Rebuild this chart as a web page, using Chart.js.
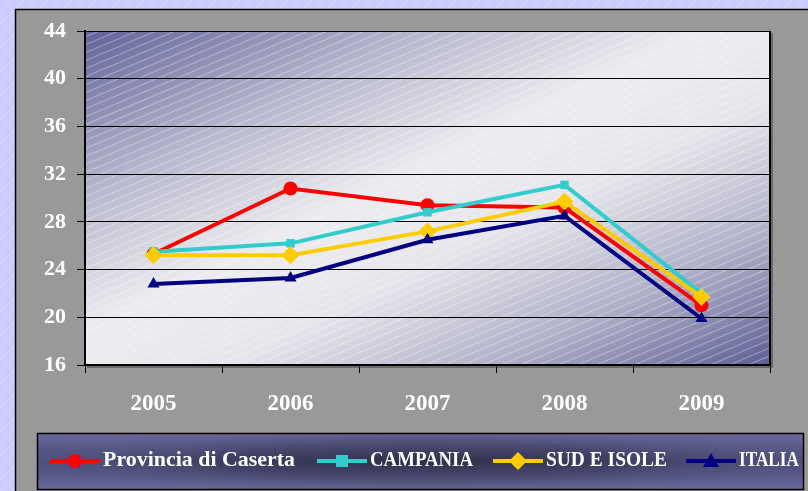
<!DOCTYPE html>
<html>
<head>
<meta charset="utf-8">
<script src="https://cdn.jsdelivr.net/npm/chart.js@4.4.1/dist/chart.umd.min.js"></script>
<style>
  html, body { margin: 0; padding: 0; background: #ccccff; }
  canvas { display: block; }
</style>
</head>
<body>
<canvas id="c" width="808" height="491"></canvas>
<script>
const years = ['2005', '2006', '2007', '2008', '2009'];
const seriesNames = ['Provincia di Caserta', 'CAMPANIA', 'SUD E ISOLE', 'ITALIA'];
const caserta = [25.3, 30.8, 29.4, 29.2, 21.0];
const campania = [25.5, 26.2, 28.8, 31.1, 22.0];
const sudIsole = [25.2, 25.2, 27.2, 29.7, 21.7];
const italia = [22.8, 23.3, 26.5, 28.5, 19.9];
const yMin = 16, yMax = 44, yStep = 4;

const colors = ['#ff0000', '#33cccc', '#ffcc00', '#000080'];
const pointStyles = ['circle', 'rect', 'rectRot', 'triangle'];
const pointRadii = [7, 6, 9, 7];
const legendWidths = [192, 103, 121, 60];

const bgPlugin = {
  id: 'bg',
  beforeDraw(chart) {
    const ctx = chart.ctx, W = chart.width, H = chart.height;
    const a = chart.chartArea;
    ctx.save();
    ctx.fillStyle = '#ccccff';
    ctx.fillRect(0, 0, W, H);
    ctx.strokeStyle = 'rgba(255,255,255,0.3)';
    ctx.lineWidth = 1;
    ctx.beginPath();
    for (let k = -H; k < W; k += 12) { ctx.moveTo(k, H); ctx.lineTo(k + H, 0); }
    ctx.stroke();
    // gray panel
    ctx.fillStyle = '#999999';
    ctx.fillRect(15, 9, W, H);
    ctx.strokeStyle = '#000';
    ctx.lineWidth = 1.5;
    ctx.strokeRect(15.5, 9.5, W, H);
    // plot area gradient (box-normalized diagonal)
    const w = a.right - a.left, h = a.bottom - a.top;
    const ga = 0.5 / w, gb = 0.5 / h, n = ga * ga + gb * gb;
    const g = ctx.createLinearGradient(a.left, a.top, a.left + ga / n, a.top + gb / n);
    g.addColorStop(0, '#62629a');
    g.addColorStop(0.25, '#b8b8ce');
    g.addColorStop(0.45, '#ececf0');
    g.addColorStop(0.6, '#e6e6ec');
    g.addColorStop(0.8, '#b0b0c8');
    g.addColorStop(1, '#5e5e96');
    ctx.fillStyle = g;
    ctx.fillRect(a.left, a.top, w, h);
    // stripes
    ctx.save();
    ctx.beginPath();
    ctx.rect(a.left, a.top, w, h);
    ctx.clip();
    ctx.strokeStyle = 'rgba(255,255,255,0.3)';
    ctx.lineWidth = 1.2;
    ctx.beginPath();
    const slope = 0.42;
    for (let k = -800; k < 1000; k += 19) {
      ctx.moveTo(a.left + k, a.bottom);
      ctx.lineTo(a.left + k + h / slope, a.top);
    }
    ctx.stroke();
    ctx.restore();
    ctx.restore();
  },
  afterDatasetsDraw(chart) {
    const ctx = chart.ctx, a = chart.chartArea;
    ctx.save();
    ctx.strokeStyle = '#000';
    ctx.lineWidth = 2;
    ctx.beginPath();
    ctx.moveTo(a.right, a.top);
    ctx.lineTo(a.right, a.bottom);
    ctx.stroke();
    ctx.strokeStyle = 'rgba(60,60,60,0.5)';
    ctx.lineWidth = 2;
    ctx.beginPath();
    ctx.moveTo(a.right + 2, a.top + 2);
    ctx.lineTo(a.right + 2, a.bottom + 2);
    ctx.lineTo(a.left + 2, a.bottom + 2);
    ctx.stroke();
    ctx.restore();
  },
  afterDraw(chart) {
    const ctx = chart.ctx;
    const bx = 37.5, by = 433.5, bw = 766, bh = 56;
    ctx.save();
    // legend background
    ctx.fillStyle = '#64649a';
    ctx.fillRect(bx, by, bw, bh);
    ctx.save();
    ctx.beginPath(); ctx.rect(bx, by, bw, bh); ctx.clip();
    ctx.translate(bx + bw / 2, by + bh / 2);
    ctx.scale(bw / bh * 0.75, 1);
    const rg = ctx.createRadialGradient(0, 0, 0, 0, 0, bh * 0.7);
    rg.addColorStop(0, 'rgba(50,50,75,1)');
    rg.addColorStop(0.5, 'rgba(65,65,100,0.8)');
    rg.addColorStop(1, 'rgba(100,100,154,0)');
    ctx.fillStyle = rg;
    ctx.fillRect(-bw, -bh, 2 * bw, 2 * bh);
    ctx.restore();
    const vg = ctx.createLinearGradient(0, by, 0, by + bh);
    vg.addColorStop(0, 'rgba(110,110,160,0.5)');
    vg.addColorStop(0.5, 'rgba(40,40,70,0.35)');
    vg.addColorStop(1, 'rgba(110,110,160,0.5)');
    ctx.fillStyle = vg;
    ctx.fillRect(bx, by, bw, bh);
    ctx.strokeStyle = '#000';
    ctx.lineWidth = 1.5;
    ctx.strokeRect(bx, by, bw, bh);

    const cy = 461;
    const itemX = [50, 317, 493, 686];
    chart.data.datasets.forEach((ds, i) => {
      const x0 = itemX[i];
      ctx.strokeStyle = ds.borderColor;
      ctx.lineWidth = 4;
      ctx.beginPath();
      ctx.moveTo(x0, cy); ctx.lineTo(x0 + 50, cy);
      ctx.stroke();
      ctx.fillStyle = ds.borderColor;
      const mx = x0 + 25;
      ctx.beginPath();
      if (ds.pointStyle === 'circle') {
        ctx.arc(mx, cy, 7, 0, Math.PI * 2);
      } else if (ds.pointStyle === 'rect') {
        ctx.rect(mx - 6, cy - 6, 12, 12);
      } else if (ds.pointStyle === 'rectRot') {
        ctx.moveTo(mx, cy - 9); ctx.lineTo(mx + 9, cy); ctx.lineTo(mx, cy + 9); ctx.lineTo(mx - 9, cy);
        ctx.closePath();
      } else {
        ctx.moveTo(mx, cy - 8); ctx.lineTo(mx + 8, cy + 6); ctx.lineTo(mx - 8, cy + 6);
        ctx.closePath();
      }
      ctx.fill();
      ctx.fillStyle = '#ffffff';
      ctx.font = 'bold 22px "Liberation Serif", "Times New Roman", serif';
      ctx.textBaseline = 'middle';
      ctx.textAlign = 'left';
      ctx.fillText(ds.label, x0 + 53, cy - 1, legendWidths[i]);
    });
    ctx.restore();
  }
};

const values = [caserta, campania, sudIsole, italia];
const datasets = seriesNames.map((name, i) => ({
  label: name,
  data: values[i],
  borderColor: colors[i],
  backgroundColor: colors[i],
  borderWidth: 4,
  pointStyle: pointStyles[i],
  pointRadius: pointRadii[i],
  pointHoverRadius: pointRadii[i],
  pointBorderWidth: 0,
  tension: 0,
  order: 4 - i
}));

new Chart(document.getElementById('c'), {
  type: 'line',
  data: { labels: years, datasets },
  plugins: [bgPlugin],
  options: {
    responsive: false,
    animation: false,
    devicePixelRatio: 1,
    layout: { padding: { top: 31, right: 38, left: 0, bottom: 0 } },
    plugins: { legend: { display: false }, tooltip: { enabled: false } },
    scales: {
      x: {
        offset: true,
        afterFit(s) { s.height = 126; },
        grid: { display: true, drawOnChartArea: false, color: '#000', tickLength: 8, offset: true },
        border: { color: '#000', width: 2 },
        ticks: { color: '#ffffff', padding: 17, font: { family: '"Liberation Serif", "Times New Roman", serif', size: 23, weight: 'bold' } }
      },
      y: {
        min: yMin, max: yMax,
        afterFit(s) { s.width = 85; },
        grid: { color: '#000', lineWidth: 1, tickLength: 8 },
        border: { color: '#000', width: 2 },
        ticks: { stepSize: yStep, color: '#ffffff', padding: 11, font: { family: '"Liberation Serif", "Times New Roman", serif', size: 22, weight: 'bold' } }
      }
    }
  }
});
</script>
</body>
</html>
